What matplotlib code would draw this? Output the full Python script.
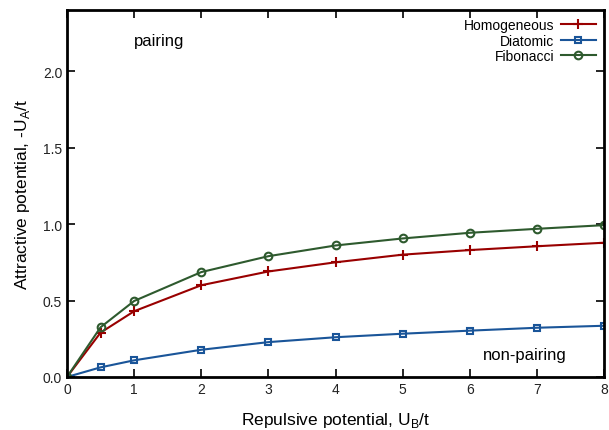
import matplotlib
matplotlib.use("Agg")
import matplotlib.pyplot as plt

plt.rcParams['font.family'] = ['Liberation Sans', 'DejaVu Sans']

x = [0, 0.5, 1, 2, 3, 4, 5, 6, 7, 8]
homogeneous = [0, 0.29, 0.43, 0.60, 0.69, 0.75, 0.80, 0.83, 0.855, 0.878]
diatomic = [0, 0.063, 0.109, 0.178, 0.228, 0.26, 0.283, 0.303, 0.322, 0.335]
fibonacci = [0, 0.325, 0.497, 0.686, 0.79, 0.86, 0.906, 0.943, 0.969, 0.993]

fig = plt.figure(figsize=(6.09, 4.31), dpi=100)
ax = fig.add_axes([0.110, 0.123, 0.882, 0.8515])

ax.plot(x, homogeneous, color='#990000', lw=1.5, marker='+', ms=7, mew=1.5, label='Homogeneous')
ax.plot(x, diatomic, color='#1a5599', lw=1.5, marker='s', ms=5, mfc='none', mew=1.5, label='Diatomic')
ax.plot(x, fibonacci, color='#2e5a2e', lw=1.5, marker='o', ms=5.5, mfc='none', mew=1.5, label='Fibonacci')

ax.set_xlim(0, 8)
ax.set_ylim(0, 2.4)
ax.set_xticks(range(0, 9))
ax.set_yticks([0, 0.5, 1.0, 1.5, 2.0])
ax.set_yticklabels(['0.0', '0.5', '1.0', '1.5', '2.0'])
ax.tick_params(direction='in', length=6, width=1.2, top=True, right=True, labelsize=10, labelcolor='#222222')
for s in ax.spines.values():
    s.set_linewidth(2)

ax.set_xlabel('Repulsive potential, U$_\\mathregular{B}$/t', fontsize=12.5, labelpad=10)
ax.set_ylabel('Attractive potential, -U$_\\mathregular{A}$/t', fontsize=12.5, labelpad=8)

ax.text(1.0, 2.2, 'pairing', fontsize=12, va='center', ha='left')
ax.text(6.2, 0.15, 'non-pairing', fontsize=12, va='center', ha='left')

leg = ax.legend(loc='upper right', frameon=False, markerfirst=False, fontsize=10,
                handlelength=2.5, borderaxespad=0.2, labelspacing=0.1, handletextpad=0.5)
for t in leg.get_texts():
    t.set_ha('right')
leg._legend_box.align = 'right'

fig.savefig('out.png', dpi=100)
